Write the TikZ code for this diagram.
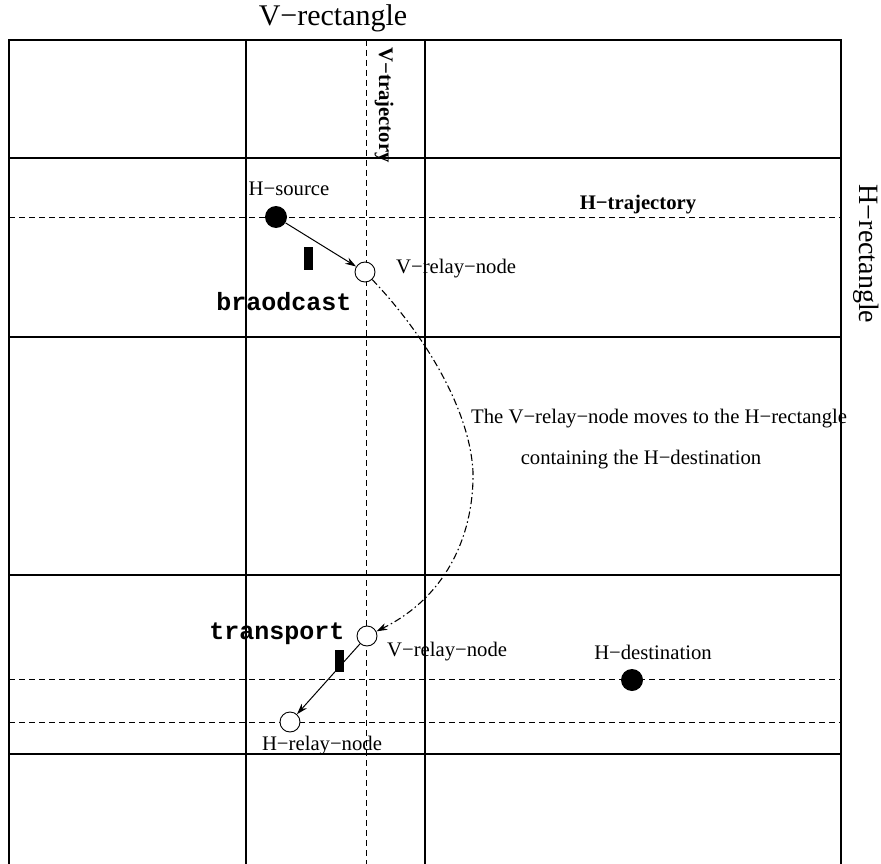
\documentclass[tikz,border=0pt]{standalone}
\usepackage{fontspec}
\setmainfont{Liberation Serif}
\setmonofont{Liberation Mono}
\usetikzlibrary{arrows.meta}
\begin{document}
\begin{tikzpicture}[x=1pt,y=-1pt,
  grid/.style={line width=1.2pt},
  traj/.style={line width=0.9pt,dash pattern=on 6pt off 4pt},
  fillnode/.style={circle,fill=black,minimum size=22pt,inner sep=0pt},
  opennode/.style={circle,draw,fill=white,line width=0.9pt,minimum size=20pt,inner sep=0pt},
  lbl/.style={font=\fontsize{20.7}{22}\selectfont,inner sep=0pt},
  blbl/.style={font=\fontsize{20.7}{22}\selectfont\bfseries,inner sep=0pt},
  big/.style={font=\fontsize{30}{32}\selectfont,inner sep=0pt},
  bigr/.style={font=\fontsize{28}{30}\selectfont,inner sep=0pt},
  ttl/.style={font=\fontsize{25}{26}\selectfont\ttfamily\bfseries,inner sep=0pt},
  bar/.style={fill=black,draw=none},
  arr/.style={line width=1pt,-{Stealth[length=11pt,width=7pt]}}
]
\useasboundingbox (0,0) rectangle (881,864);
% outer grid
\draw[grid] (9,864) -- (9,40) -- (841,40) -- (841,864);
\draw[grid] (246,40) -- (246,864);
\draw[grid] (425,40) -- (425,864);
\foreach \yy in {158,337,575,754} \draw[grid] (9,\yy) -- (841,\yy);
% trajectories
\draw[traj] (366,40) -- (366,864);
\draw[traj] (9,217) -- (841,217);
\draw[traj] (9,679) -- (841,679);
\draw[traj] (9,722) -- (841,722);
% titles
\node[big] (vrect) at (333,18) {V−rectangle};
\node[bigr,rotate=-90] (hrect) at (866,254) {H−rectangle};
\node[blbl,rotate=-90] (vtraj) at (384,105) {V−trajectory};
\node[blbl] (htraj) at (638,205) {H−trajectory};
% nodes
\node[fillnode] (hs) at (276,217) {};
\node[opennode] (v1) at (365,272) {};
\node[opennode] (v2) at (367,636) {};
\node[opennode] (hr) at (290,722) {};
\node[fillnode] (hd) at (632,680) {};
% labels
\node[lbl] (hsl) at (289,189) {H−source};
\node[lbl,anchor=west] (v1l) at (396,269) {V−relay−node};
\node[lbl,anchor=west] (v2l) at (387,652) {V−relay−node};
\node[lbl] (hrl) at (322,746) {H−relay−node};
\node[lbl] (hdl) at (653,652) {H−destination};
\node[ttl] (bc) at (284,302) {braodcast};
\node[ttl] (tp) at (277,634) {transport};
\node[lbl,anchor=west] (mv1) at (471,419) {The V−relay−node moves to the H−rectangle};
\node[lbl] (mv2) at (641,460) {containing the H−destination};
% bars
\fill[bar] (304,247) rectangle (313,270);
\fill[bar] (335,650) rectangle (344,672);
% arrows
\draw[arr] (hs) -- (v1);
\draw[arr] (v2) -- (hr);
\coordinate (bend) at (473,472);
\draw[line width=1.1pt,dash pattern=on 7pt off 3pt on 1.5pt off 3pt,-{Stealth[length=11pt,width=7pt]}]
  (v1) .. controls (425,335) and (470,410) .. (bend)
  .. controls (474,530) and (450,595) .. (v2);
\end{tikzpicture}
\end{document}
